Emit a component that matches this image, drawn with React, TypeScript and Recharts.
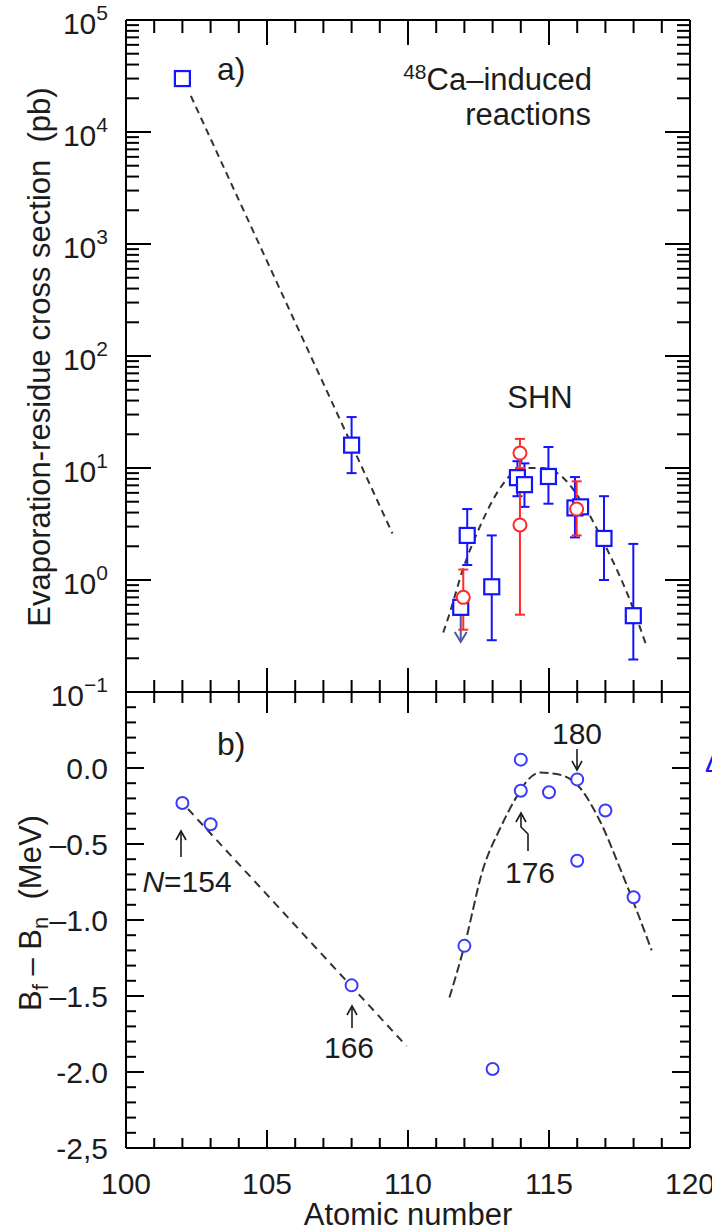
import React from "react";
import { ComposedChart, Scatter, Line, XAxis, YAxis, ErrorBar } from "recharts";

// ---------- panel a) : cross sections (pb) ----------
const zSquares = [102, 108, 111.87, 112.1, 112.97, 113.88, 114.13, 114.98, 115.92, 116.12, 116.95, 117.99];
const sigmaSquares = [30000, 16, 0.57, 2.5, 0.87, 8.2, 7.1, 8.4, 4.4, 4.5, 2.35, 0.48];
const sigmaSquaresLow = [30000, 9, 0.57, 1.36, 0.29, 5.6, 4.5, 4.8, 2.4, 4.5, 1.0, 0.195];
const sigmaSquaresHigh = [30000, 28.5, 0.57, 4.3, 2.5, 11.5, 11, 15.4, 8.3, 4.5, 5.6, 2.1];

// upper limit (arrow down) on Z=112
const zLimit = [111.87, 111.87];
const sigmaLimit = [0.57, 0.28];

const zCircles = [111.96, 113.97, 113.97, 115.98];
const sigmaCircles = [0.7, 13.6, 3.1, 4.3];
const sigmaCirclesLow = [0.36, 10, 0.49, 2.5];
const sigmaCirclesHigh = [1.24, 18.2, 8.5, 7.6];

const fitColdZ = [102.3, 109.45];
const fitColdSigma = [21000, 2.6];
const fitShnZ = [111.25, 111.45, 111.95, 112.55, 113.3, 113.7, 114.3, 114.75, 115.5, 116.2, 117.05, 117.85, 118.45];
const fitShnSigma = [0.34, 0.48, 1.25, 3.0, 6.8, 8.9, 10.0, 10.0, 8.2, 4.8, 1.9, 0.68, 0.26];

// ---------- panel b) : Bf - Bn (MeV) ----------
const zBarrier = [102, 103, 108, 112, 113, 114, 114, 115, 116, 116, 117, 118];
const bfBn = [-0.23, -0.37, -1.43, -1.17, -1.98, 0.055, -0.15, -0.16, -0.075, -0.61, -0.28, -0.85];
const fitLeftZ = [102.2, 109.95];
const fitLeftB = [-0.27, -1.83];
const fitRightZ = [111.47, 112.0, 112.67, 113.26, 113.85, 114.2, 114.68, 115.27, 116.0, 116.81, 117.52, 117.99, 118.64];
const fitRightB = [-1.51, -1.17, -0.66, -0.4, -0.19, -0.09, -0.03, -0.04, -0.11, -0.35, -0.66, -0.88, -1.2];

// ---------- ticks ----------
const xTicks = Array.from({ length: 21 }, (_, i) => 100 + i);
const logTicks = [-1, 0, 1, 2, 3, 4].flatMap((e) => [1, 2, 3, 4, 5, 6, 7, 8, 9].map((m) => m * Math.pow(10, e))).concat([1e5]);
const bTicks = Array.from({ length: 31 }, (_, i) => Math.round((-2.5 + i * 0.1) * 10) / 10);
const bTickLabels: Record<string, string> = {
  "0": "0.0",
  "-0.5": "–0.5",
  "-1": "–1.0",
  "-1.5": "–1.5",
  "-2": "-2.0",
  "-2.5": "-2,5",
};

// ---------- layout ----------
const W = 712;
const H = 1225;
const LEFT = 126;
const RIGHT = 690;
const TOP = 20;
const MID = 692;
const BOT = 1148;

const FONT = '"Liberation Sans", Arial, Helvetica, sans-serif';
const INK = "#1c1c1c";
const BLUE = "#1414ff";
const RED = "#ff2a2a";
const BLUE_B = "#3a3aff";
const DASH = "#333";
const FS = 30;

const pts = (xs: number[], ys: number[], lo?: number[], hi?: number[]) =>
  xs.map((x, i) => ({
    x,
    y: ys[i],
    err: lo && hi ? [ys[i] - lo[i], hi[i] - ys[i]] : undefined,
  }));

const squaresData = pts(zSquares, sigmaSquares, sigmaSquaresLow, sigmaSquaresHigh);
const circlesData = pts(zCircles, sigmaCircles, sigmaCirclesLow, sigmaCirclesHigh);
const limitData = pts(zLimit, sigmaLimit);
const fitColdData = pts(fitColdZ, fitColdSigma);
const fitShnData = pts(fitShnZ, fitShnSigma);
const barrierData = pts(zBarrier, bfBn);
const fitLeftData = pts(fitLeftZ, fitLeftB);
const fitRightData = pts(fitRightZ, fitRightB);

/* ---------- tick renderers (inward ticks, labels outside) ---------- */

const isMajorX = (v: number) => Math.abs(v % 5) < 1e-6;
const isMajorLog = (v: number) => Math.abs(Math.log10(v) - Math.round(Math.log10(v))) < 1e-6;
const isMajorB = (v: number) => Math.abs(v * 2 - Math.round(v * 2)) < 1e-6;

function xTick(edge: number, dir: number, major: number, minor: number, label: boolean) {
  return (p: any) => {
    const v = Number(p.payload.value);
    const mj = isMajorX(v);
    return (
      <g>
        <line x1={p.x} x2={p.x} y1={edge} y2={edge + dir * (mj ? major : minor)} stroke="#000" strokeWidth={2} />
        {label && mj && (
          <text x={p.x} y={1194} textAnchor="middle" fontFamily={FONT} fontSize={FS} fill={INK}>
            {v}
          </text>
        )}
      </g>
    );
  };
}

function logTick(edge: number, dir: number, label: boolean) {
  return (p: any) => {
    const v = Number(p.payload.value);
    const mj = isMajorLog(v);
    const e = Math.round(Math.log10(v));
    return (
      <g>
        <line y1={p.y} y2={p.y} x1={edge} x2={edge + dir * (mj ? 25 : 13)} stroke="#000" strokeWidth={2} />
        {label && mj && (
          <text x={108} y={p.y + 14} textAnchor="end" fontFamily={FONT} fontSize={FS} fill={INK}>
            10
            <tspan dy={-14} fontSize={21}>
              {e < 0 ? `\u2212${-e}` : e}
            </tspan>
          </text>
        )}
      </g>
    );
  };
}

function bTick(edge: number, dir: number, label: boolean) {
  return (p: any) => {
    const v = Number(p.payload.value);
    const mj = isMajorB(v);
    const txt = bTickLabels[String(v)];
    return (
      <g>
        <line y1={p.y} y2={p.y} x1={edge} x2={edge + dir * (mj ? 18 : 10)} stroke="#000" strokeWidth={2} />
        {label && txt && (
          <text x={108} y={p.y + 11} textAnchor="end" fontFamily={FONT} fontSize={FS} fill={INK}>
            {txt}
          </text>
        )}
      </g>
    );
  };
}

/* ---------- symbol shapes ---------- */

const squareShape = (p: any) => (
  <rect x={p.cx - 7.5} y={p.cy - 7.5} width={15} height={15} fill="#fff" stroke={BLUE} strokeWidth={2.2} />
);
const redCircleShape = (p: any) => <circle cx={p.cx} cy={p.cy} r={6.5} fill="#fff" stroke={RED} strokeWidth={2} />;
const blueCircleShape = (p: any) => <circle cx={p.cx} cy={p.cy} r={6} fill="#fff" stroke={BLUE_B} strokeWidth={2} />;

const arrowDot = (p: any) =>
  p.index === 1 ? (
    <path
      key={`ad-${p.index}`}
      d={`M${p.cx - 6},${p.cy - 10} L${p.cx},${p.cy} L${p.cx + 6},${p.cy - 10}`}
      fill="none"
      stroke="#4a58a8"
      strokeWidth={2}
    />
  ) : (
    <g key={`ad-${p.index}`} />
  );

const axisLine = { stroke: "#000", strokeWidth: 2 };

function PanelA() {
  return (
    <ComposedChart width={W} height={H} margin={{ top: TOP, right: W - RIGHT, bottom: H - MID, left: LEFT }}>
      <XAxis xAxisId="b" orientation="bottom" mirror type="number" dataKey="x" domain={[100, 120]} allowDataOverflow
        ticks={xTicks} interval={0} tickSize={0} tickLine={false} axisLine={axisLine} tick={xTick(MID, -1, 24, 12, false)} />
      <XAxis xAxisId="t" orientation="top" mirror type="number" dataKey="x" domain={[100, 120]} allowDataOverflow
        ticks={xTicks} interval={0} tickSize={0} tickLine={false} axisLine={axisLine} tick={xTick(TOP, 1, 25, 13, false)} />
      <YAxis yAxisId="l" orientation="left" mirror scale="log" type="number" dataKey="y" domain={[0.1, 100000]} allowDataOverflow
        ticks={logTicks} interval={0} tickSize={0} tickLine={false} axisLine={axisLine} tick={logTick(LEFT, 1, true)} />
      <YAxis yAxisId="r" orientation="right" mirror scale="log" type="number" dataKey="y" domain={[0.1, 100000]} allowDataOverflow
        ticks={logTicks} interval={0} tickSize={0} tickLine={false} axisLine={axisLine} tick={logTick(RIGHT, -1, false)} />

      <Line xAxisId="b" yAxisId="l" data={fitColdData} dataKey="y" type="linear" stroke={DASH} strokeWidth={2}
        strokeDasharray="7 5" dot={false} isAnimationActive={false} />
      <Line xAxisId="b" yAxisId="l" data={fitShnData} dataKey="y" type="monotone" stroke={DASH} strokeWidth={2}
        strokeDasharray="7 5" dot={false} isAnimationActive={false} />
      <Line xAxisId="b" yAxisId="l" data={limitData} dataKey="y" type="linear" stroke="#4a58a8" strokeWidth={2}
        dot={arrowDot} isAnimationActive={false} />

      <Scatter xAxisId="b" yAxisId="l" data={squaresData} dataKey="y" shape={squareShape} isAnimationActive={false}>
        <ErrorBar dataKey="err" direction="y" width={5} stroke={BLUE} strokeWidth={2} />
      </Scatter>
      <Scatter xAxisId="b" yAxisId="l" data={circlesData} dataKey="y" shape={redCircleShape} isAnimationActive={false}>
        <ErrorBar dataKey="err" direction="y" width={5} stroke={RED} strokeWidth={2} />
      </Scatter>
    </ComposedChart>
  );
}

function PanelB() {
  return (
    <ComposedChart width={W} height={H} margin={{ top: MID, right: W - RIGHT, bottom: H - BOT, left: LEFT }}>
      <XAxis xAxisId="b" orientation="bottom" mirror type="number" dataKey="x" domain={[100, 120]} allowDataOverflow
        ticks={xTicks} interval={0} tickSize={0} tickLine={false} axisLine={axisLine} tick={xTick(BOT, -1, 18, 10, true)} />
      <XAxis xAxisId="t" orientation="top" mirror type="number" dataKey="x" domain={[100, 120]} allowDataOverflow
        ticks={xTicks} interval={0} tickSize={0} tickLine={false} axisLine={axisLine} tick={xTick(MID, 1, 21, 11, false)} />
      <YAxis yAxisId="l" orientation="left" mirror type="number" dataKey="y" domain={[-2.5, 0.5]} allowDataOverflow
        ticks={bTicks} interval={0} tickSize={0} tickLine={false} axisLine={axisLine} tick={bTick(LEFT, 1, true)} />
      <YAxis yAxisId="r" orientation="right" mirror type="number" dataKey="y" domain={[-2.5, 0.5]} allowDataOverflow
        ticks={bTicks} interval={0} tickSize={0} tickLine={false} axisLine={axisLine} tick={bTick(RIGHT, -1, false)} />

      <Line xAxisId="b" yAxisId="l" data={fitLeftData} dataKey="y" type="linear" stroke={DASH} strokeWidth={2}
        strokeDasharray="8 6" dot={false} isAnimationActive={false} />
      <Line xAxisId="b" yAxisId="l" data={fitRightData} dataKey="y" type="monotone" stroke={DASH} strokeWidth={2}
        strokeDasharray="9 4" dot={false} isAnimationActive={false} />

      <Scatter xAxisId="b" yAxisId="l" data={barrierData} dataKey="y" shape={blueCircleShape} isAnimationActive={false} />
    </ComposedChart>
  );
}

function Arrow({ d, head }: { d: string; head: string }) {
  return (
    <g fill="none" stroke={INK} strokeWidth={1.6}>
      <path d={d} />
      <path d={head} />
    </g>
  );
}

function Annotations() {
  const t = { fontFamily: FONT, fill: INK };
  return (
    <svg width={W} height={H} style={{ position: "absolute", left: 0, top: 0, pointerEvents: "none" }}>
      <text x={217} y={80} fontSize={32} {...t}>a)</text>
      <text x={592} y={90} textAnchor="end" fontSize={31} {...t}>
        <tspan fontSize={21} dy={-11}>48</tspan>
        <tspan dy={11}>Ca–induced</tspan>
      </text>
      <text x={591} y={125} textAnchor="end" fontSize={31} {...t}>reactions</text>
      <text x={540} y={408} textAnchor="middle" fontSize={31} {...t}>SHN</text>

      <text x={217} y={755} fontSize={32} {...t}>b)</text>
      <text x={187} y={892} textAnchor="middle" fontSize={FS} {...t}>
        <tspan fontStyle="italic">N</tspan>=154
      </text>
      <Arrow d="M181,857 L181,831" head="M176,840 L181,831 L186,840" />
      <text x={349} y={1058} textAnchor="middle" fontSize={FS} {...t}>166</text>
      <Arrow d="M352,1028 L352,1006" head="M347,1015 L352,1006 L357,1015" />
      <text x={530} y={883} textAnchor="middle" fontSize={FS} {...t}>176</text>
      <Arrow d="M528,851 L528,834 L521,827 L521,813" head="M516,822 L521,813 L526,822" />
      <text x={577} y={744} textAnchor="middle" fontSize={FS} {...t}>180</text>
      <Arrow d="M577,749 L577,770" head="M572,761 L577,770 L582,761" />
      <text x={705} y={772} fontSize={28} fontFamily={FONT} fill={BLUE}>Δ</text>

      <text transform="translate(50,357) rotate(-90)" textAnchor="middle" fontSize={31} style={{ whiteSpace: "pre" }} {...t}>
        {"Evaporation-residue cross section  (pb)"}
      </text>
      <text transform="translate(41,913) rotate(-90)" textAnchor="middle" fontSize={31} style={{ whiteSpace: "pre" }} {...t}>
        B<tspan fontSize={22} dy={7}>f</tspan>
        <tspan dy={-7}>{" – B"}</tspan>
        <tspan fontSize={22} dy={7}>n</tspan>
        <tspan dy={-7}>{"  (MeV)"}</tspan>
      </text>
      <text x={408} y={1225} textAnchor="middle" fontSize={31} {...t}>Atomic number</text>
    </svg>
  );
}

export default function App() {
  return (
    <div style={{ position: "absolute", left: 0, top: 0, width: W, height: H, overflow: "hidden", background: "#fff" }}>
      <div style={{ position: "absolute", left: 0, top: 0 }}>
        <PanelA />
      </div>
      <div style={{ position: "absolute", left: 0, top: 0 }}>
        <PanelB />
      </div>
      <Annotations />
    </div>
  );
}
